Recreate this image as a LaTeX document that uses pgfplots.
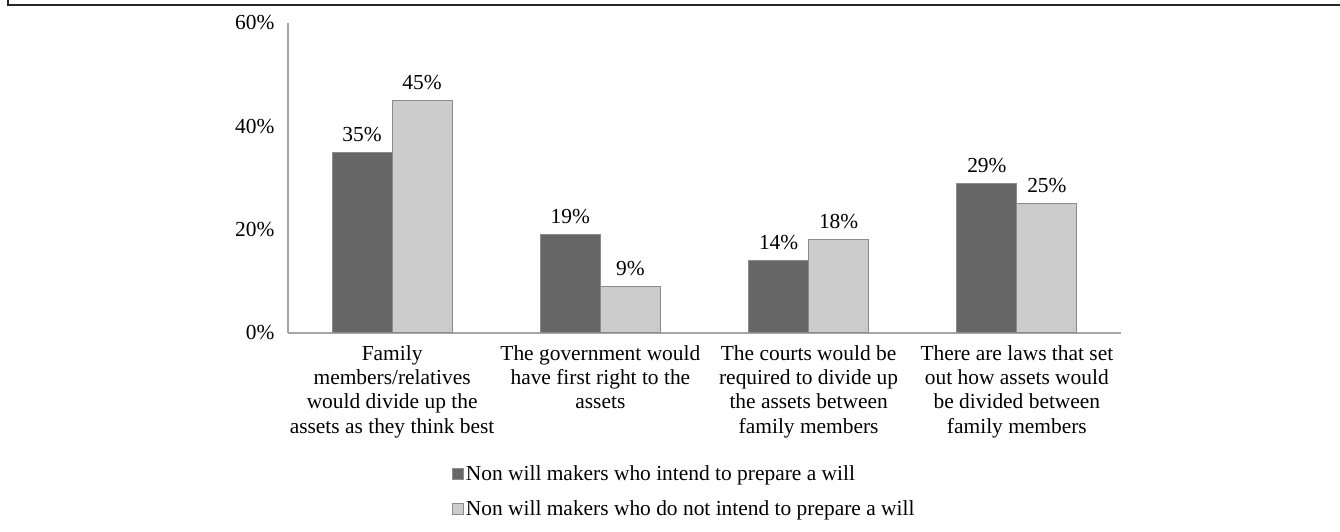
\documentclass[border=0pt]{standalone}
\usepackage{pgfplots}
\pgfplotsset{compat=1.18}
\usepackage{fontspec}
\setmainfont{Liberation Serif}
\definecolor{darkbar}{HTML}{666666}
\definecolor{lightbar}{HTML}{CCCCCC}
\definecolor{barline}{HTML}{8C8C8C}
\definecolor{axline}{HTML}{A6A6A6}
\begin{document}
\begin{tikzpicture}
\path[use as bounding box] (0,0) rectangle (1340bp,532bp);
\draw[line width=2bp, color=black!85] (7.5bp,532bp) -- (7.5bp,526.5bp) -- (1340bp,526.5bp);
\begin{axis}[
  at={(288bp,199bp)}, anchor=south west,
  scale only axis, width=833bp, height=310bp,
  xmin=-0.5, xmax=3.5, ymin=0, ymax=60,
  axis x line*=bottom, axis y line*=left,
  axis line style={color=axline, line width=1.2bp},
  ybar, bar width=60bp,
  xtick={0,1,2,3},
  xticklabels={{Family\\members/relatives\\would divide up the\\assets as they think best},
               {The government would\\have first right to the\\assets},
               {The courts would be\\required to divide up\\the assets between\\family members},
               {There are laws that set\\out how assets would\\be divided between\\family members}},
  xticklabel style={align=center, anchor=north, yshift=-9bp, font=\fontsize{21.5}{24.3}\selectfont},
  ytick={0,20,40,60},
  yticklabel={\pgfmathprintnumber{\tick}\%},
  yticklabel style={font=\fontsize{21.5}{24}\selectfont, xshift=-10bp},
  /pgf/number format/assume math mode=true,
  major tick length=0pt,
  nodes near coords={\pgfmathprintnumber{\pgfplotspointmeta}\%},
  nodes near coords style={font=\fontsize{21.5}{24}\selectfont, color=black, yshift=7bp},
  legend style={at={(axis description cs:0.197,-0.42)}, anchor=north west, draw=none,
    font=\fontsize{21.5}{24}\selectfont, row sep=15bp, inner sep=0pt, cells={anchor=west}},
  legend cell align=left,
  legend image code/.code={\draw[#1, line width=0.6bp] (0bp,-5.5bp) rectangle (11bp,5.5bp);},
  clip=false,
]
\addplot[fill=darkbar, draw=barline, line width=1bp, bar shift=-30bp] coordinates {(0,35) (1,19) (2,14) (3,29)};
\addplot[fill=lightbar, draw=barline, line width=1bp, bar shift=30bp] coordinates {(0,45) (1,9) (2,18) (3,25)};
\legend{Non will makers who intend to prepare a will, Non will makers who do not intend to prepare a will}
\end{axis}
\end{tikzpicture}
\end{document}
